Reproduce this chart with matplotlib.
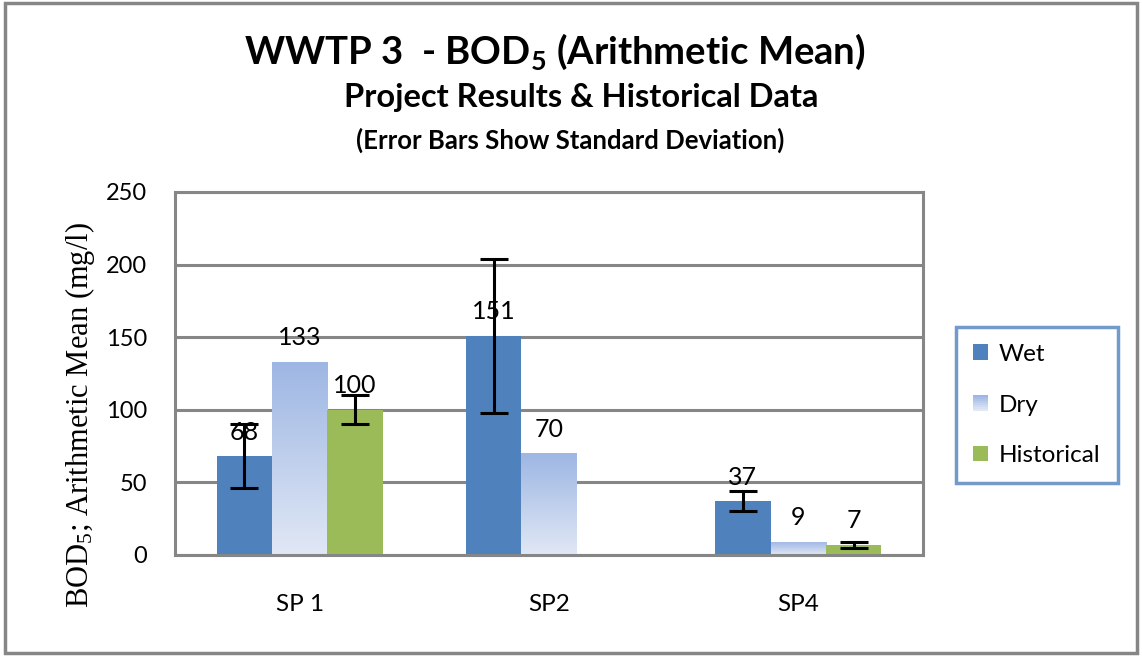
import numpy as np
import matplotlib
matplotlib.use('Agg')
import matplotlib.pyplot as plt
from matplotlib.colors import LinearSegmentedColormap
from matplotlib.patches import Rectangle
from matplotlib.legend_handler import HandlerBase

plt.rcParams['font.family'] = ['Lato', 'DejaVu Sans']

# data
sites = ['SP 1', 'SP2', 'SP4']
series = ['Wet', 'Dry', 'Historical']
wet = [68, 151, 37]
dry = [133, 70, 9]
historical = [100, np.nan, 7]
wet_sd = [22, 53, 7]
historical_sd = [10, np.nan, 2]

c_wet = '#4f81bd'
c_hist = '#9bbb59'
dry_top = '#9db6e3'
dry_bottom = '#e1e8f5'
grey = '#868686'
dry_cmap = LinearSegmentedColormap.from_list('dry', [dry_bottom, dry_top])


class HandlerGradient(HandlerBase):
    # legend swatch drawn as a few stacked strips
    def create_artists(self, legend, orig_handle, xdescent, ydescent,
                       width, height, fontsize, trans):
        n = 8
        arts = []
        for i in range(n):
            r = Rectangle((-xdescent, -ydescent + i * height / n), width, height / n,
                          facecolor=dry_cmap(i / (n - 1)), edgecolor='none',
                          transform=trans)
            arts.append(r)
        return arts


fig = plt.figure(figsize=(11.42, 6.56), dpi=100)
ax = fig.add_axes([0.1532, 0.154, 0.655, 0.5534])

x = np.arange(len(sites))
w = 0.222
b_wet = ax.bar(x - w, wet, w, color=c_wet, zorder=2)
b_dry = ax.bar(x, dry, w, color='none', zorder=2)
b_hist = ax.bar(x + w, historical, w, color=c_hist, zorder=2)

# gradient fill for the dry bars
grad = np.linspace(0, 1, 256).reshape(-1, 1)
for bar in b_dry:
    x0, h, bw = bar.get_x(), bar.get_height(), bar.get_width()
    im = ax.imshow(grad, cmap=dry_cmap, aspect='auto', origin='lower',
                   extent=(x0, x0 + bw, 0, h), zorder=1.5)
    im.set_clip_path(bar)

ax.errorbar(x - w, wet, yerr=wet_sd, fmt='none', ecolor='black',
            elinewidth=2.2, capsize=10, capthick=2.2, zorder=4)
ax.errorbar(x + w, historical, yerr=historical_sd, fmt='none', ecolor='black',
            elinewidth=2.2, capsize=10, capthick=2.2, zorder=4)

for offs, vals in [(-w, wet), (0, dry), (w, historical)]:
    for xi, v in zip(x + offs, vals):
        if np.isnan(v):
            continue
        ax.annotate('%d' % v, (xi, v), xytext=(0, 9), textcoords='offset points',
                    ha='center', va='bottom', fontsize=18, zorder=5)

ax.set_xlim(-0.5, 2.5)
ax.set_ylim(0, 250)
ax.set_yticks(range(0, 251, 50))
ax.set_xticks(x)
ax.set_xticklabels(sites, fontsize=17.5)
ax.tick_params(axis='x', length=0, pad=28)
ax.tick_params(axis='y', length=0, pad=20, labelsize=17)
ax.yaxis.grid(True, color=grey, linewidth=2.2)
ax.set_axisbelow(True)
for s in ax.spines.values():
    s.set_color(grey)
    s.set_linewidth(2.2)

fig.text(80 / 1142, 1 - 415 / 656, r'BOD$\mathregular{_5}$; Arithmetic Mean (mg/l)',
         rotation=90, ha='center', va='center', fontsize=22,
         family='Liberation Serif')

fig.text(555 / 1142, 1 - 52 / 656, r'WWTP 3  - BOD$\mathregular{_5}$ (Arithmetic Mean)',
         ha='center', va='center', fontsize=27.5, fontweight='bold')
fig.text(581 / 1142, 1 - 98 / 656, 'Project Results & Historical Data',
         ha='center', va='center', fontsize=23.5, fontweight='bold')
fig.text(570 / 1142, 1 - 140 / 656, '(Error Bars Show Standard Deviation)',
         ha='center', va='center', fontsize=18.5, fontweight='bold')

leg = fig.legend([b_wet, b_dry, b_hist], series, loc='center left',
                 bbox_to_anchor=(956 / 1142, 1 - 405 / 656), fontsize=17.5,
                 frameon=True, fancybox=False, edgecolor=c_wet,
                 borderpad=0.7, labelspacing=1.22, handlelength=0.62,
                 handleheight=0.62, handletextpad=0.45, borderaxespad=0,
                 handler_map={b_dry: HandlerGradient()})
leg.get_frame().set_linewidth(2.5)

fig.patches.append(Rectangle((0.004, 0.004), 0.992, 0.992, transform=fig.transFigure,
                             fill=False, edgecolor=grey, linewidth=2.5))

fig.savefig('out.png', dpi=100)
